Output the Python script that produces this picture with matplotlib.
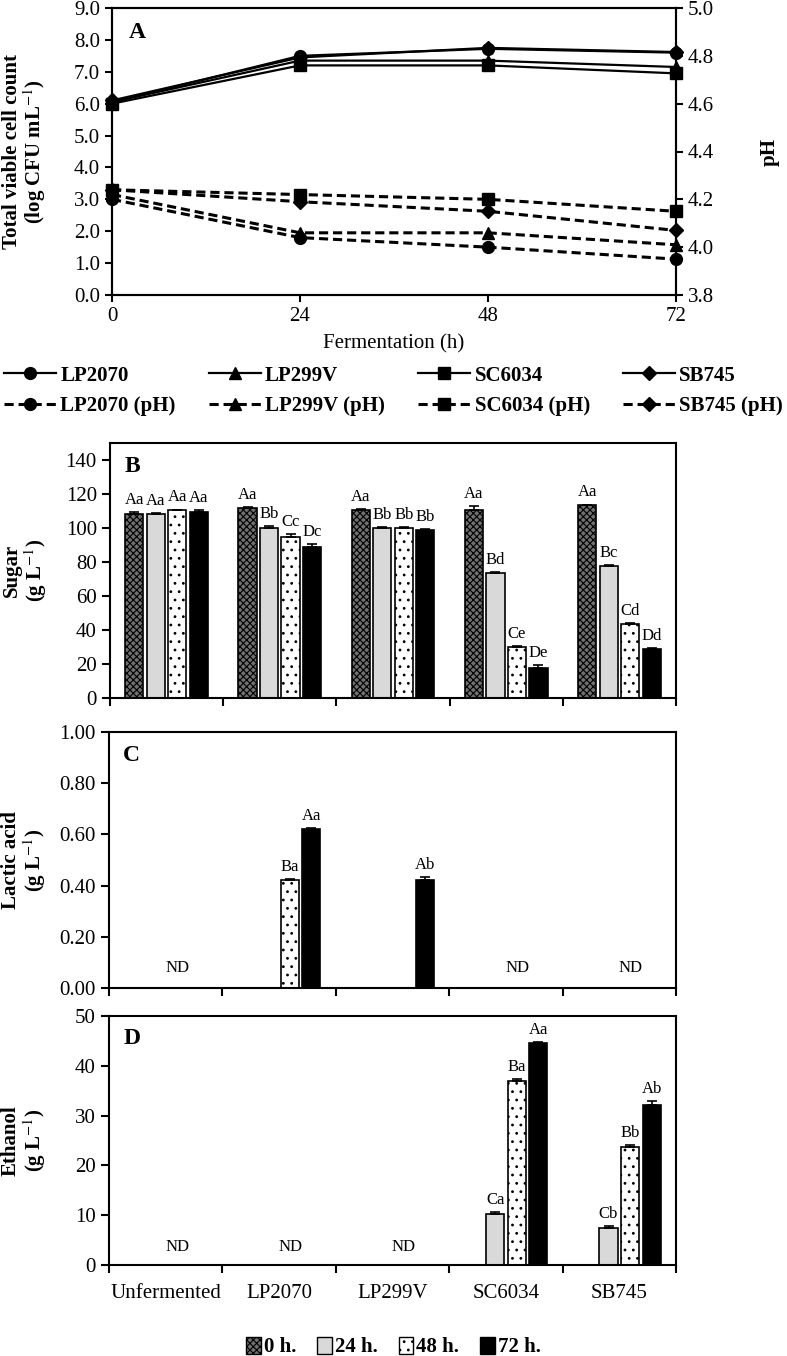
import numpy as np
import matplotlib
matplotlib.use("Agg")
import matplotlib.pyplot as plt
from matplotlib.patches import Patch

plt.rcParams['font.family'] = ['Liberation Serif', 'DejaVu Serif']
plt.rcParams['mathtext.fontset'] = 'stix'
plt.rcParams['hatch.linewidth'] = 0.8

# === Data: panel A ===
hours = [0, 24, 48, 72]
strains = ['LP2070', 'LP299V', 'SC6034', 'SB745']
markers = ['o', '^', 's', 'D']

vcc_lp2070 = [6.05, 7.50, 7.72, 7.60]
vcc_lp299v = [6.05, 7.35, 7.35, 7.15]
vcc_sc6034 = [6.00, 7.20, 7.20, 6.95]
vcc_sb745 = [6.10, 7.45, 7.75, 7.62]

ph_lp2070 = [4.20, 4.04, 4.00, 3.95]
ph_lp299v = [4.22, 4.06, 4.06, 4.01]
ph_sc6034 = [4.24, 4.22, 4.20, 4.15]
ph_sb745 = [4.24, 4.19, 4.15, 4.07]

# === Data: bar panels ===
samples = ['Unfermented', 'LP2070', 'LP299V', 'SC6034', 'SB745']
times = ['0 h.', '24 h.', '48 h.', '72 h.']

sugar_0h = [108.4, 112.0, 110.3, 110.8, 113.3]
sugar_24h = [108.4, 100.0, 100.0, 73.5, 77.4]
sugar_48h = [110.3, 94.5, 100.0, 30.0, 43.5]
sugar_72h = [109.6, 88.6, 98.6, 17.6, 28.8]
sugar_err_0h = [0.8, 0.5, 0.8, 2.0, 0.5]
sugar_err_24h = [0.6, 1.2, 0.5, 0.5, 0.8]
sugar_err_48h = [0.5, 1.8, 0.5, 0.5, 0.5]
sugar_err_72h = [1.0, 2.0, 0.8, 2.0, 0.8]
sugar_let_0h = ['Aa', 'Aa', 'Aa', 'Aa', 'Aa']
sugar_let_24h = ['Aa', 'Bb', 'Bb', 'Bd', 'Bc']
sugar_let_48h = ['Aa', 'Cc', 'Bb', 'Ce', 'Cd']
sugar_let_72h = ['Aa', 'Dc', 'Bb', 'De', 'Dd']

lactic_0h = [0, 0, 0, 0, 0]
lactic_24h = [0, 0, 0, 0, 0]
lactic_48h = [0, 0.42, 0, 0, 0]
lactic_72h = [0, 0.62, 0.42, 0, 0]
lactic_err_48h = [0, 0.004, 0, 0, 0]
lactic_err_72h = [0, 0.006, 0.013, 0, 0]
lactic_let_48h = ['', 'Ba', '', '', '']
lactic_let_72h = ['', 'Aa', 'Ab', '', '']
lactic_nd = [0, 3, 4]

ethanol_0h = [0, 0, 0, 0, 0]
ethanol_24h = [0, 0, 0, 10.3, 7.5]
ethanol_48h = [0, 0, 0, 37.0, 23.7]
ethanol_72h = [0, 0, 0, 44.5, 32.1]
ethanol_err_24h = [0, 0, 0, 0.3, 0.3]
ethanol_err_48h = [0, 0, 0, 0.3, 0.3]
ethanol_err_72h = [0, 0, 0, 0.2, 0.8]
ethanol_let_24h = ['', '', '', 'Ca', 'Cb']
ethanol_let_48h = ['', '', '', 'Ba', 'Bb']
ethanol_let_72h = ['', '', '', 'Aa', 'Ab']
ethanol_nd = [0, 1, 2]

# bar styles (0h, 24h, 48h, 72h)
bar_face = ['#707070', '#d9d9d9', 'white', 'black']
bar_hatch = ['xxxxx', None, '..', None]

W, H = 787, 1356
fig = plt.figure(figsize=(W / 100, H / 100), dpi=100)


def fax(left, top, right, bottom):
    return fig.add_axes([left / W, 1 - bottom / H, (right - left) / W, (bottom - top) / H])


TICK = 15

# === Panel A ===
ax = fax(112, 8, 676, 295)
ax2 = ax.twinx()
vcc_all = [vcc_lp2070, vcc_lp299v, vcc_sc6034, vcc_sb745]
ph_all = [ph_lp2070, ph_lp299v, ph_sc6034, ph_sb745]
handles = []
labels = []
for name, m, v, p in zip(strains, markers, vcc_all, ph_all):
    ms = 7.5 if m == 'D' else 8.5
    l1, = ax.plot(hours, v, '-', color='black', lw=1.6, marker=m, ms=ms, clip_on=False, zorder=3)
    l2, = ax2.plot(hours, p, color='black', lw=2.2, ls=(0, (3, 1.6)), marker=m, ms=ms,
                   clip_on=False, zorder=3)
    handles += [l1, l2]
    labels += [name, name + ' (pH)']

ax.set_xlim(0, 72)
ax.set_ylim(0, 9)
ax.set_xticks(hours)
ax.set_yticks(np.arange(0, 9.1, 1))
ax.set_yticklabels([f'{t:.1f}' for t in np.arange(0, 9.1, 1)])
ax2.set_ylim(3.8, 5.0)
ax2.set_yticks(np.arange(3.8, 5.01, 0.2))
ax2.set_yticklabels([f'{t:.1f}' for t in np.arange(3.8, 5.01, 0.2)])
for a in (ax, ax2):
    a.tick_params(direction='out', length=5, width=1.5, labelsize=TICK)
    for s in a.spines.values():
        s.set_linewidth(1.5)
ax.set_xlabel('Fermentation (h)', fontsize=TICK, labelpad=6)
ax.set_ylabel('Total viable cell count\n(log CFU mL$^{-1}$)', fontsize=TICK,
              fontweight='bold', linespacing=1.0)
ax.yaxis.set_label_coords(-0.113, 0.5)
ax2.set_ylabel('pH', fontsize=TICK, fontweight='bold', rotation=90)
ax2.yaxis.set_label_coords(1.149, 0.5)
ax.text(0.03, 0.95, 'A', transform=ax.transAxes, fontsize=17, fontweight='bold',
        va='top', ha='left')

fig.legend(handles, labels, ncol=4, loc='center', bbox_to_anchor=(0.5, 1 - 391 / H),
           frameon=False, prop={'weight': 'bold', 'size': 15}, handlelength=2.5,
           handletextpad=0.2, columnspacing=1.6, labelspacing=0.5)


# === Bar panels ===
def bar_panel(ax, series, errs, lets, ymax, yticks, fmt, ylabel, tag, nd=(), nd_y=0.0):
    width = 0.16
    step = 0.19
    bars = []
    for k, vals in enumerate(series):
        xs = np.arange(len(samples)) + 0.5 + (k - 1.5) * step
        vals = np.asarray(vals, dtype=float)
        mask = vals > 0
        b = ax.bar(xs[mask], vals[mask], width, color=bar_face[k], edgecolor='black',
                   linewidth=1.2, hatch=bar_hatch[k], zorder=2)
        bars.append(b)
        if errs[k] is not None:
            e = np.asarray(errs[k])
            ax.errorbar(xs[mask], vals[mask], yerr=[np.zeros(mask.sum()), e[mask]],
                        fmt='none', ecolor='black', elinewidth=1.2, capsize=3.5,
                        capthick=1.2, zorder=3)
        if lets[k] is not None:
            e = np.zeros(len(vals)) if errs[k] is None else np.asarray(errs[k])
            for x, v, ee, t in zip(xs, vals, e, lets[k]):
                if t:
                    ax.annotate(t, (x, v + ee), xytext=(0, 3), textcoords='offset points',
                                ha='center', va='bottom', fontsize=12)
    for i in nd:
        ax.text(i + 0.6, nd_y, 'ND', ha='center', va='bottom', fontsize=12)
    ax.set_xlim(0, len(samples))
    ax.set_ylim(0, ymax)
    ax.set_xticks(np.arange(len(samples) + 1))
    ax.set_xticklabels([])
    ax.set_yticks(yticks)
    ax.set_yticklabels([fmt.format(t) for t in yticks])
    ax.tick_params(direction='out', length=6, width=1.5, labelsize=TICK)
    for s in ax.spines.values():
        s.set_linewidth(1.5)
    ax.set_ylabel(ylabel, fontsize=TICK, fontweight='bold', linespacing=1.0)
    ax.yaxis.set_label_coords(-0.108, 0.5)
    ax.text(0.025, 0.95, tag, transform=ax.transAxes, fontsize=17, fontweight='bold',
            va='top', ha='left')
    return bars


axb = fax(110, 443, 676, 698)
bar_panel(axb, [sugar_0h, sugar_24h, sugar_48h, sugar_72h],
          [sugar_err_0h, sugar_err_24h, sugar_err_48h, sugar_err_72h],
          [sugar_let_0h, sugar_let_24h, sugar_let_48h, sugar_let_72h],
          150, np.arange(0, 141, 20), '{:.0f}', 'Sugar\n(g L$^{-1}$)', 'B')

axc = fax(109, 732, 676, 988)
bar_panel(axc, [lactic_0h, lactic_24h, lactic_48h, lactic_72h],
          [None, None, lactic_err_48h, lactic_err_72h],
          [None, None, lactic_let_48h, lactic_let_72h],
          1.0, np.arange(0, 1.01, 0.2), '{:.2f}', 'Lactic acid\n(g L$^{-1}$)', 'C',
          nd=lactic_nd, nd_y=0.045)

axd = fax(109, 1016, 676, 1265)
bars = bar_panel(axd, [ethanol_0h, ethanol_24h, ethanol_48h, ethanol_72h],
                 [None, ethanol_err_24h, ethanol_err_48h, ethanol_err_72h],
                 [None, ethanol_let_24h, ethanol_let_48h, ethanol_let_72h],
                 50, np.arange(0, 51, 10), '{:.0f}', 'Ethanol\n(g L$^{-1}$)', 'D',
                 nd=ethanol_nd, nd_y=2.0)
axd.set_xticks(np.arange(len(samples)) + 0.5, minor=True)
axd.set_xticklabels(samples, minor=True)
axd.tick_params(axis='x', which='minor', length=0, labelsize=TICK, pad=14)

leg_handles = [Patch(facecolor=bar_face[k], edgecolor='black', hatch=bar_hatch[k], linewidth=1.0)
               for k in range(4)]
fig.legend(leg_handles, times, ncol=4, loc='center', bbox_to_anchor=(0.5, 1 - 1347 / H),
           frameon=False, prop={'weight': 'bold', 'size': 15}, handlelength=0.7,
           handleheight=0.9, handletextpad=0.15, columnspacing=1.0)

fig.savefig('out.png', dpi=100)
